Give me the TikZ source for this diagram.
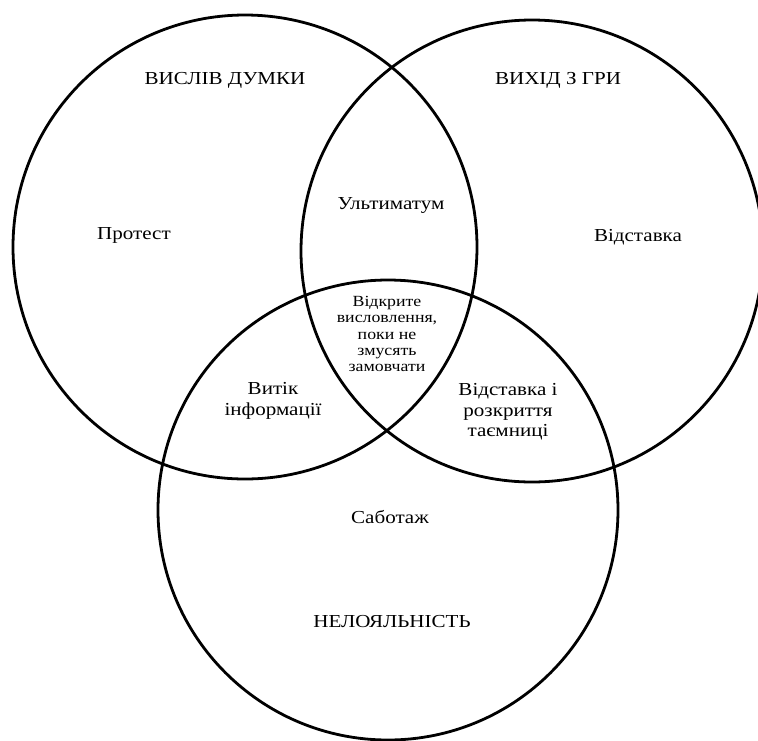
\documentclass[tikz,border=0pt]{standalone}
\usepackage{fontspec}
\setmainfont[FakeStretch=1.15]{Liberation Serif}
\usetikzlibrary{positioning}

\begin{document}
\begin{tikzpicture}[x=1pt,y=-1pt,
    venn/.style={draw, circle, line width=2.8pt, inner sep=0pt},
    lbl/.style={font=\fontsize{18.3}{20.5}\selectfont, align=center, inner sep=0pt},
    small/.style={font=\fontsize{15.5}{16.4}\selectfont, align=center, inner sep=0pt}]
    \useasboundingbox (0,0) rectangle (758,740);

    % three circles
    \node[venn, minimum size=464pt] (dumka) at (245,247) {};
    \node[venn, minimum size=462pt] (vykhid) at (532,251) {};
    \node[venn, minimum size=460pt] (neloyal) at (388,510) {};

    % titles
    \node[lbl] (t1) at (225,80) {ВИСЛІВ ДУМКИ};
    \node[lbl] (t2) at (558,80) {ВИХІД З ГРИ};
    \node[lbl] (t3) at (392,622) {НЕЛОЯЛЬНІСТЬ};

    % regions
    \node[lbl] (protest) at (134,235) {Протест};
    \node[lbl] (ultim) at (391,205) {Ультиматум};
    \node[lbl] (vidst) at (638,237) {Відставка};
    \node[small] (centre) at (387,334) {Відкрите\\висловлення,\\поки не\\змусять\\замовчати};
    \node[lbl] (vytik) at (273,401) {Витік\\інформації};
    \node[lbl] (rozkr) at (508,412) {Відставка і\\розкриття\\таємниці};
    \node[lbl] (sabot) at (390,517) {Саботаж};
\end{tikzpicture}
\end{document}
